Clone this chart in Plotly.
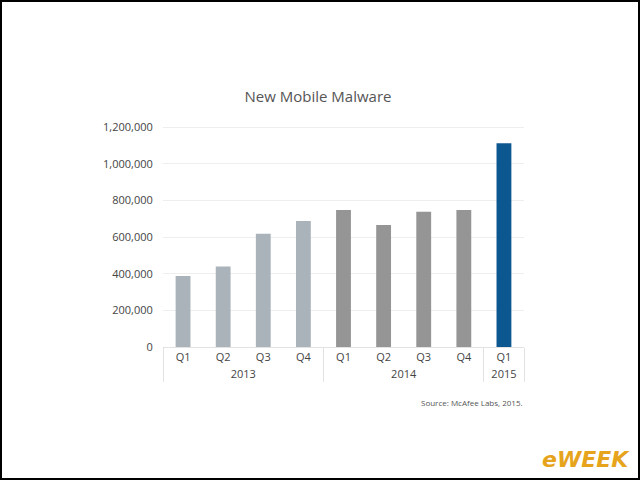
import plotly.graph_objects as go

years = ["2013", "2013", "2013", "2013", "2014", "2014", "2014", "2014", "2015"]
quarters = ["Q1", "Q2", "Q3", "Q4", "Q1", "Q2", "Q3", "Q4", "Q1"]
values = [388000, 440000, 618000, 688000, 748000, 666000, 738000, 748000, 1112000]
bar_colors = ["#aab3ba"] * 4 + ["#959596"] * 4 + ["#0d5790"]
y_ticks = [0, 200000, 400000, 600000, 800000, 1000000, 1200000]
y_labels = ["0", "200,000", "400,000", "600,000", "800,000", "1,000,000", "1,200,000"]

L, R, T, B = 163, 116, 125, 133
W, H = 640, 480
pw, ph = W - L - R, H - T - B

def px(x):
    return (x - L) / pw

def py(y):
    return (H - B - y) / ph

fig = go.Figure(
    go.Bar(
        x=[years, quarters],
        y=values,
        marker=dict(color=bar_colors, line=dict(width=0)),
        width=0.37,
    )
)

fig.update_layout(
    width=W,
    height=H,
    margin=dict(l=L, r=R, t=T, b=B),
    paper_bgcolor="white",
    plot_bgcolor="white",
    showlegend=False,
    font=dict(family="Open Sans, Noto Sans, sans-serif", color="#444444", size=11),
    title=dict(
        text="New Mobile Malware",
        x=px(318),
        xref="paper",
        xanchor="center",
        y=1 - 97 / H,
        yanchor="middle",
        font=dict(size=15, color="#555555"),
    ),
    xaxis=dict(
        type="multicategory",
        showgrid=False,
        showline=True,
        linecolor="#e2e2e2",
        linewidth=1,
        ticks="",
        showdividers=True,
        dividercolor="#e2e2e2",
        dividerwidth=1,
        tickfont=dict(size=11, color="#444444"),
    ),
    yaxis=dict(
        range=[0, 1212000],
        tickvals=y_ticks,
        ticktext=y_labels,
        showgrid=True,
        gridcolor="#eeeeee",
        gridwidth=1,
        zeroline=False,
        showline=False,
        ticks="outside",
        ticklen=7,
        tickcolor="rgba(0,0,0,0)",
        tickfont=dict(size=11, color="#444444"),
    ),
    shapes=[
        dict(
            type="rect",
            xref="paper",
            yref="paper",
            x0=px(1),
            x1=px(639),
            y0=py(479),
            y1=py(1),
            line=dict(color="black", width=2),
            fillcolor="rgba(0,0,0,0)",
            layer="above",
        )
    ],
    annotations=[
        dict(
            text="Source: McAfee Labs, 2015.",
            xref="paper",
            yref="paper",
            x=px(525),
            y=py(402),
            xanchor="right",
            yanchor="middle",
            showarrow=False,
            font=dict(size=8, color="#555555"),
        ),
        dict(
            text="<b><i>eWEEK</i></b>",
            xref="paper",
            yref="paper",
            x=px(632),
            y=py(459),
            xanchor="right",
            yanchor="middle",
            showarrow=False,
            font=dict(size=22, color="#e6a41c", family="DejaVu Sans, sans-serif"),
        ),
    ],
)

fig.write_html("out.html")
